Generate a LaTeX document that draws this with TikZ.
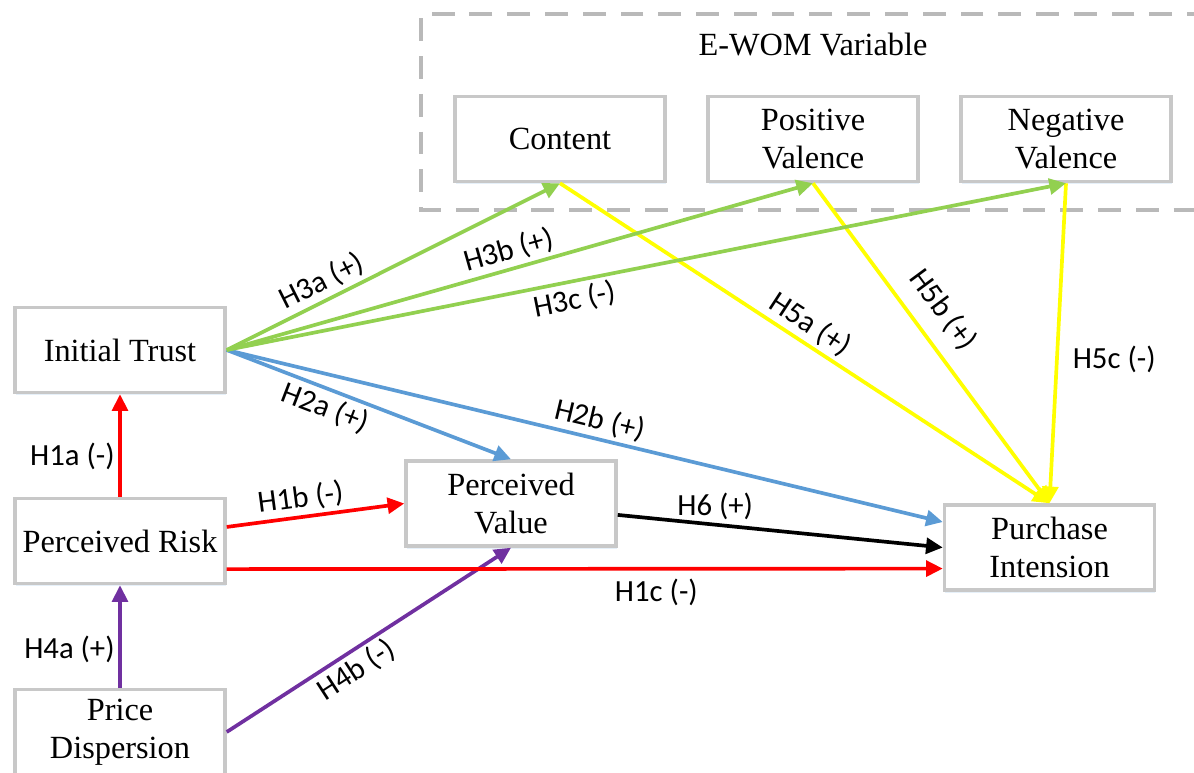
\documentclass[tikz,border=0pt]{standalone}
\usepackage{fontspec}
\setmainfont{Liberation Serif}
\newfontfamily\lblfont{Carlito}
\usetikzlibrary{arrows.meta,shadows}
\definecolor{hred}{RGB}{255,0,0}
\definecolor{hpurple}{RGB}{112,48,160}
\definecolor{hblue}{RGB}{91,155,213}
\definecolor{hgreen}{RGB}{146,208,80}
\definecolor{hyellow}{RGB}{255,255,0}
\definecolor{boxgray}{RGB}{200,200,200}
\definecolor{dashgray}{RGB}{185,185,185}

\begin{document}
\begin{tikzpicture}[x=0.02cm,y=-0.02cm]
\tikzstyle{var}=[draw=boxgray,line width=2pt,fill=white,minimum width=4.2cm,minimum height=1.7cm,align=center,font=\fontsize{18.4}{21.5}\selectfont,drop shadow={shadow xshift=0.5pt,shadow yshift=-1.5pt,fill=hblue!50,opacity=0.3}]
\tikzstyle{hyp}=[line width=2.1pt,-{Triangle[length=9.5pt,width=9pt]}]
\tikzstyle{lbl}=[font=\lblfont\fontsize{17.5}{20}\selectfont,inner sep=2pt]
\useasboundingbox (0,0) rectangle (1194,773);
\draw [dashgray,line width=1.8pt,dash pattern=on 13pt off 8.5pt] (1210,14) -- (421,14) -- (421,210) -- (1210,210);
\node [font=\fontsize{18.4}{21.5}\selectfont] (ewom) at (813,45) {E-WOM Variable};
\node [var] (content) at (560,139) {Content};
\node [var] (positive) at (813,139) {Positive\\Valence};
\node [var] (negative) at (1066,139) {Negative\\Valence};
\node [var] (trust) at (120,350) {Initial Trust};
\node [var] (risk) at (120,541) {Perceived Risk};
\node [var] (price) at (120,732) {Price\\Dispersion};
\node [var] (value) at (511,503.5) {Perceived\\Value};
\node [var] (intension) at (1049.5,547.5) {Purchase\\Intension};
\draw [hyp,hred] (risk.north) -- node [lbl,black,left,pos=.39] (l1a) {H1a (-)} (trust.south);
\draw [hyp,hpurple] (price.north) -- node [lbl,black,left,pos=.37] (l4a) {H4a (+)} (risk.south);
\draw [hyp,hpurple] (price.east) -- node [lbl,black,sloped,below,pos=.42] (l4b) {H4b (-)} (value.south);
\draw [hyp,hred] ([yshift=8pt]risk.east) -- node [lbl,black,sloped,above,pos=.43] (l1b) {H1b (-)} (value.west);
\draw [hyp,hred] ([yshift=-16pt]risk.east) -- node [lbl,black,below=3pt,pos=.6] (l1c) {H1c (-)} ([yshift=-12pt]intension.west);
\draw [hyp,black] ([yshift=-6.5pt]value.east) -- node [lbl,above,pos=.3] (l6) {H6 (+)} (intension.west);
\draw [hyp,hblue] (trust.east) -- node [lbl,black,sloped,below,pos=.37] (l2a) {H2a (+)} (value.north);
\draw [hyp,hblue] (trust.east) -- node [lbl,black,sloped,above,pos=.515] (l2b) {H2b (+)} ([yshift=14.5pt]intension.west);
\draw [hyp,hyellow] (content.south) -- node [lbl,black,sloped,above,pos=.49] (l5a) {H5a (+)} (intension.north);
\draw [hyp,hyellow] (positive.south) -- node [lbl,black,sloped,above=6pt,pos=.45] (l5b) {H5b (+)} (intension.north);
\draw [hyp,hyellow] (negative.south) -- node [lbl,black,right=6pt,pos=.55] (l5c) {H5c (-)} (intension.north);
\draw [hyp,hgreen] (trust.east) -- node [lbl,black,sloped,above,pos=.31] (l3a) {H3a (+)} (content.south);
\draw [hyp,hgreen] (trust.east) -- node [lbl,black,sloped,above,pos=.49] (l3b) {H3b (+)} (positive.south);
\draw [hyp,hgreen] (trust.east) -- node [lbl,black,sloped,below,pos=.41] (l3c) {H3c (-)} (negative.south);
\end{tikzpicture}
\end{document}
